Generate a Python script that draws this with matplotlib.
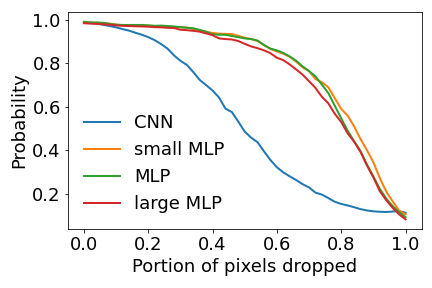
import numpy as np
import matplotlib
matplotlib.use("Agg")
import matplotlib.pyplot as plt

x = np.linspace(0, 1, 51)
cnn = [0.990, 0.987, 0.983, 0.978, 0.972, 0.966, 0.958, 0.951, 0.941, 0.932,
       0.921, 0.907, 0.889, 0.868, 0.837, 0.812, 0.793, 0.760, 0.724, 0.700,
       0.675, 0.643, 0.592, 0.576, 0.532, 0.486, 0.458, 0.437, 0.395, 0.355,
       0.322, 0.298, 0.280, 0.263, 0.244, 0.229, 0.205, 0.196, 0.180, 0.163,
       0.153, 0.146, 0.138, 0.129, 0.123, 0.119, 0.117, 0.116, 0.118, 0.121,
       0.112]
small_mlp = [0.990, 0.988, 0.987, 0.986, 0.983, 0.979, 0.976, 0.976, 0.975, 0.975,
             0.974, 0.972, 0.972, 0.970, 0.968, 0.967, 0.965, 0.958, 0.953, 0.946,
             0.940, 0.937, 0.936, 0.935, 0.927, 0.918, 0.912, 0.903, 0.884, 0.866,
             0.855, 0.845, 0.830, 0.808, 0.782, 0.764, 0.728, 0.713, 0.690, 0.640,
             0.590, 0.560, 0.510, 0.452, 0.400, 0.345, 0.272, 0.210, 0.165, 0.122,
             0.105]
mlp = [0.992, 0.988, 0.988, 0.987, 0.982, 0.978, 0.977, 0.977, 0.977, 0.977,
       0.975, 0.973, 0.974, 0.972, 0.970, 0.967, 0.964, 0.962, 0.954, 0.946,
       0.934, 0.932, 0.932, 0.926, 0.921, 0.915, 0.912, 0.905, 0.885, 0.868,
       0.860, 0.848, 0.832, 0.812, 0.786, 0.765, 0.740, 0.702, 0.663, 0.605,
       0.547, 0.490, 0.442, 0.397, 0.335, 0.280, 0.222, 0.178, 0.143, 0.115,
       0.092]
large_mlp = [0.985, 0.983, 0.982, 0.980, 0.978, 0.975, 0.973, 0.972, 0.971, 0.970,
             0.969, 0.967, 0.966, 0.964, 0.963, 0.955, 0.953, 0.950, 0.946, 0.938,
             0.930, 0.915, 0.912, 0.910, 0.903, 0.890, 0.878, 0.870, 0.860, 0.847,
             0.826, 0.815, 0.795, 0.772, 0.748, 0.718, 0.687, 0.646, 0.616, 0.568,
             0.530, 0.478, 0.440, 0.392, 0.330, 0.275, 0.212, 0.170, 0.135, 0.105,
             0.082]
labels = ["CNN", "small MLP", "MLP", "large MLP"]

fig = plt.figure(figsize=(6, 4), dpi=72)
ax = fig.add_axes([0.157, 0.204, 0.819, 0.755])
for series, lab in zip([cnn, small_mlp, mlp, large_mlp], labels):
    ax.plot(x, series, label=lab, lw=2)
ax.set_xlabel("Portion of pixels dropped", fontsize=18)
ax.set_ylabel("Probability", fontsize=18)
ax.tick_params(labelsize=18)
ax.set_xticks([0.0, 0.2, 0.4, 0.6, 0.8, 1.0])
ax.set_yticks([0.2, 0.4, 0.6, 0.8, 1.0])
ax.legend(loc="lower left", frameon=False, fontsize=18)
fig.savefig("out.png", dpi=72)
